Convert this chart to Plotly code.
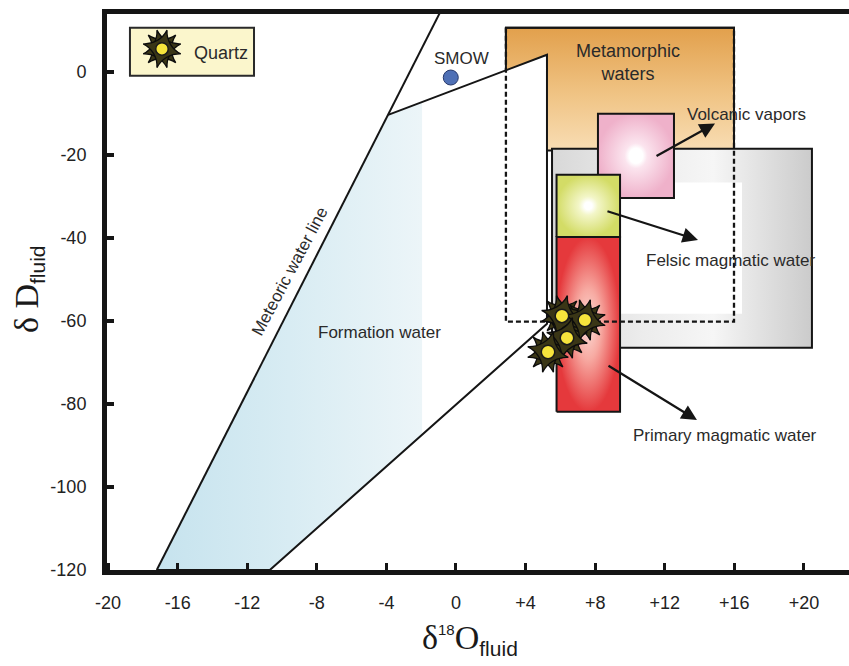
import plotly.graph_objects as go

# ---- isotope fields (x = δ18O, y = δD, per mil) ----
# Meteoric water line
mwl_d18o = [-17.2, -0.95]
mwl_dd = [-120.0, 14.0]

# Formation water field outline
formation_d18o = [-17.2, -3.9, 5.23, 5.23, -10.7]
formation_dd = [-120.0, -10.4, 4.1, -60.7, -120.0]
formation_tint_edge = -1.95  # blue tint stops at this δ18O

# Rectangular fields as (δ18O min, δ18O max, δD min, δD max)
metamorphic_field = (2.87, 15.98, -19.0, 10.6)
magmatic_envelope = (5.52, 20.46, -66.5, -18.55)
felsic_clear = (9.43, 16.44, -58.3, -26.7)
volcanic_field = (8.16, 12.53, -30.4, -10.1)
felsic_field = (5.78, 9.43, -39.8, -24.8)
primary_field = (5.78, 9.43, -81.9, -39.8)
dashed_field = (2.87, 15.98, -60.2, 10.6)

# Standard mean ocean water
smow_d18o = [-0.3]
smow_dd = [-1.4]

# Quartz fluid compositions
quartz_d18o = [6.09, 7.41, 6.38, 5.29]
quartz_dd = [-58.8, -59.8, -64.1, -67.5]

# Axis ticks
x_ticks = [-20, -16, -12, -8, -4, 0, 4, 8, 12, 16, 20]
x_ticklabels = ["-20", "-16", "-12", "-8", "-4", "0", "+4", "+8", "+12", "+16", "+20"]
y_ticks = [0, -20, -40, -60, -80, -100, -120]
y_ticklabels = ["0", "-20", "-40", "-60", "-80", "-100", "-120"]

X_RANGE = [-20.06, 22.59]
Y_RANGE = [-120.0, 13.9]

SANS = "Liberation Sans, Arial, sans-serif"
SERIF = "Liberation Serif, Times New Roman, serif"
INK = "#151515"
TEXT = "#2a2a2a"


def rect(b):
    x0, x1, y0, y1 = b
    return [x0, x1, x1, x0, x0], [y0, y0, y1, y1, y0]


def clip_left(xs, ys, xc):
    """Clip a polygon to the half-plane x <= xc."""
    pts = list(zip(xs, ys))
    out = []
    for i in range(len(pts)):
        p, q = pts[i], pts[(i + 1) % len(pts)]
        pin, qin = p[0] <= xc, q[0] <= xc
        if pin:
            out.append(p)
        if pin != qin:
            t = (xc - p[0]) / (q[0] - p[0])
            out.append((xc, p[1] + t * (q[1] - p[1])))
    return [a for a, _ in out], [b for _, b in out]


fig = go.Figure()


def add_box(bounds, gradient, line_color=INK, line_width=2, dash=None):
    xs, ys = rect(bounds)
    fig.add_trace(go.Scatter(
        x=xs, y=ys, mode="lines", fill="toself",
        fillcolor="white" if gradient is None else None,
        fillgradient=gradient,
        line=dict(color=line_color, width=line_width, dash=dash),
        hoverinfo="skip", showlegend=False))


# Metamorphic waters
add_box(metamorphic_field, dict(
    type="vertical", start=metamorphic_field[2], stop=metamorphic_field[3],
    colorscale=[[0, "#f8ddb4"], [0.45, "#f0c485"], [1, "#e2a04c"]]))

# Formation water: white body, tinted strip, then outline
fig.add_trace(go.Scatter(
    x=formation_d18o + formation_d18o[:1], y=formation_dd + formation_dd[:1],
    mode="lines", fill="toself", fillcolor="white", line=dict(width=0),
    hoverinfo="skip", showlegend=False))
tint_x, tint_y = clip_left(formation_d18o, formation_dd, formation_tint_edge)
fig.add_trace(go.Scatter(
    x=tint_x + tint_x[:1], y=tint_y + tint_y[:1], mode="lines", fill="toself",
    fillgradient=dict(type="horizontal", start=min(tint_x), stop=formation_tint_edge,
                      colorscale=[[0, "#c6e3ee"], [0.5, "#d8ecf3"], [1, "#ecf5f8"]]),
    line=dict(width=0), hoverinfo="skip", showlegend=False))
fig.add_trace(go.Scatter(
    x=formation_d18o[1:] + formation_d18o[:1], y=formation_dd[1:] + formation_dd[:1],
    mode="lines", line=dict(color=INK, width=2), hoverinfo="skip", showlegend=False))
fig.add_trace(go.Scatter(
    x=mwl_d18o, y=mwl_dd, mode="lines", line=dict(color=INK, width=2),
    hoverinfo="skip", showlegend=False))

# Magmatic envelope (grey) with its clear interior
add_box(magmatic_envelope, dict(
    type="horizontal", start=magmatic_envelope[0], stop=magmatic_envelope[1],
    colorscale=[[0, "#d8d8d8"], [0.35, "#ececec"], [0.62, "#f6f6f6"], [1, "#cbcbcb"]]))
add_box(felsic_clear, None, line_width=0)

# Volcanic vapors, felsic and primary magmatic water
add_box(volcanic_field, dict(type="radial",
        colorscale=[[0, "#ffffff"], [0.18, "#ffffff"], [0.3, "#fbe4ee"], [1, "#efb1ca"]]))
add_box(felsic_field, dict(type="radial",
        colorscale=[[0, "#ffffff"], [0.12, "#ffffff"], [0.3, "#f3f6c8"], [1, "#d3dc66"]]))
add_box(primary_field, dict(type="radial",
        colorscale=[[0, "#fcdcd6"], [0.4, "#f7aaa2"], [1, "#e5393c"]]))

# Dashed field outline: left, bottom and right sides (top runs along the metamorphic box)
x0, x1, y0, y1 = dashed_field
fig.add_trace(go.Scatter(x=[x0, x0, x1, x1], y=[y1, y0, y0, y1], mode="lines",
                         line=dict(color=INK, width=2.3, dash="5px,3px"),
                         hoverinfo="skip", showlegend=False))
# Re-ink the metamorphic box edges above the grey envelope
mx0, mx1, my0, my1 = metamorphic_field
fig.add_trace(go.Scatter(x=[mx0, mx0, mx1, mx1], y=[formation_dd[2] + 2, my1, my1, magmatic_envelope[3]],
                         mode="lines", line=dict(color=INK, width=2),
                         hoverinfo="skip", showlegend=False))

# SMOW
fig.add_trace(go.Scatter(x=smow_d18o, y=smow_dd, mode="markers",
                         marker=dict(size=15, color="#4f70b5", line=dict(color="#26386a", width=1)),
                         hoverinfo="skip", showlegend=False))


def add_sun(xs, ys, size=27):
    for ang in (0, 30, 60):
        fig.add_trace(go.Scatter(
            x=xs, y=ys, mode="markers",
            marker=dict(symbol="star-square", size=size, angle=ang, color="#3a3616",
                        line=dict(color="#0c0c0c", width=1.3)),
            hoverinfo="skip", showlegend=False))
    fig.add_trace(go.Scatter(
        x=xs, y=ys, mode="markers",
        marker=dict(symbol="circle", size=size * 0.5, color="#f6e43c",
                    line=dict(color="#1a1a1a", width=1.5)),
        hoverinfo="skip", showlegend=False))


add_sun(quartz_d18o, quartz_dd)

# Legend box with quartz symbol
fig.add_shape(type="rect", xref="x", yref="y", x0=-18.74, x1=-11.61, y0=-0.96, y1=10.6,
              fillcolor="#fbf6cc", line=dict(color="#2a2a2a", width=2), layer="below")
add_sun([-16.9], [5.5], size=25)
fig.add_annotation(x=-15.2, y=4.6, xref="x", yref="y", text="Quartz", showarrow=False,
                   xanchor="left", font=dict(family=SANS, size=18, color=TEXT))

# Arrows to field labels (head, tail)
arrows = [((14.89, -12.5), (11.44, -20.5)),
          ((13.91, -40.5), (8.62, -33.5)),
          ((13.85, -83.9), (8.68, -70.6))]
for (hx, hy), (tx, ty) in arrows:
    fig.add_annotation(x=hx, y=hy, ax=tx, ay=ty, xref="x", yref="y", axref="x", ayref="y",
                       text="", showarrow=True, arrowhead=2, arrowsize=1.4,
                       arrowwidth=2.2, arrowcolor=INK)

labels = [
    ("Volcanic vapors", 16.72, -10.4, 17, 0),
    ("Felsic magmatic water", 15.75, -45.5, 17, 0),
    ("Primary magmatic water", 15.46, -87.5, 17, 0),
    ("Metamorphic<br>waters", 9.9, 2.2, 18, 0),
    ("SMOW", 0.34, 3.1, 17, 0),
    ("Formation water", -4.37, -62.9, 17, 0),
    ("Meteoric water line", -9.54, -48.2, 17, -62),
]
for txt, x, y, size, ang in labels:
    fig.add_annotation(x=x, y=y, xref="x", yref="y", text=txt, showarrow=False,
                       textangle=ang, font=dict(family=SANS, size=size, color=TEXT))

# Axis titles
fig.add_annotation(
    xref="x", yref="paper", x=0.8, y=-0.125, yanchor="middle", showarrow=False,
    text=("δ<sup><span style=\"font-family:Liberation Sans;font-size:15px\">18</span></sup>O"
          "<sub><span style=\"font-family:Liberation Sans;font-size:21px\">fluid</span></sub>"),
    font=dict(family=SERIF, size=34, color="#1a1a1a"))
fig.add_annotation(
    xref="paper", yref="paper", x=-0.137, y=0.505, textangle=-90, showarrow=False,
    text="δ D<sub><span style=\"font-family:Liberation Sans;font-size:21px\">fluid</span></sub>",
    font=dict(family=SERIF, size=34, color="#1a1a1a"))

fig.update_xaxes(
    range=X_RANGE, tickvals=x_ticks, ticktext=x_ticklabels,
    showline=True, linewidth=5, linecolor=INK, mirror=True,
    ticks="inside", ticklen=7, tickwidth=3, tickcolor=INK,
    ticklabelstandoff=12, showgrid=False, zeroline=False,
    tickfont=dict(family=SANS, size=18, color="#222"))
fig.update_yaxes(
    range=Y_RANGE, tickvals=y_ticks, ticktext=y_ticklabels,
    showline=True, linewidth=5, linecolor=INK, mirror=False,
    ticks="inside", ticklen=7, tickwidth=4, tickcolor=INK,
    ticklabelstandoff=12, showgrid=False, zeroline=False,
    tickfont=dict(family=SANS, size=18, color="#222"))

fig.update_layout(
    width=849, height=666, margin=dict(l=107, r=0, t=14, b=96),
    paper_bgcolor="white", plot_bgcolor="white", showlegend=False)

fig.write_html("out.html")
